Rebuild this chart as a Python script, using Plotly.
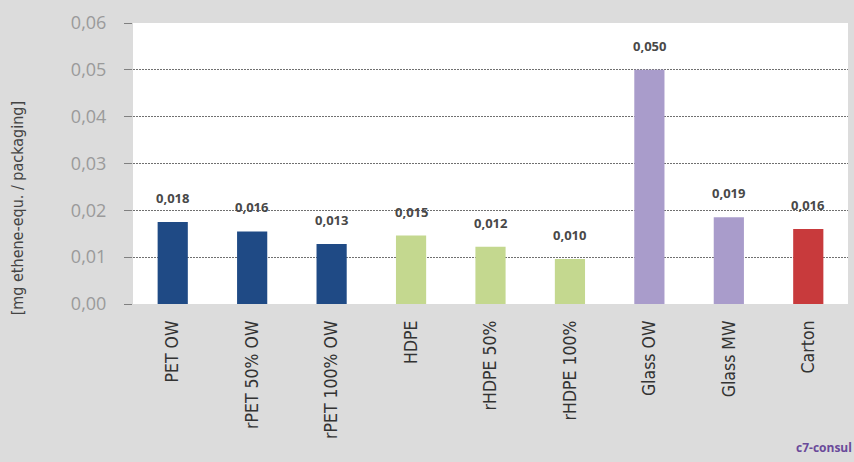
import plotly.graph_objects as go

categories = ["PET OW", "rPET 50% OW", "rPET 100% OW", "HDPE", "rHDPE 50%",
              "rHDPE 100%", "Glass OW", "Glass MW", "Carton"]
values = [0.0175, 0.0155, 0.0128, 0.0146, 0.0122, 0.0096, 0.0500, 0.0185, 0.0160]
labels = ["0,018", "0,016", "0,013", "0,015", "0,012", "0,010", "0,050", "0,019", "0,016"]
colors = ["#1f4a85", "#1f4a85", "#1f4a85", "#c4d88f", "#c4d88f", "#c4d88f",
          "#a99ccb", "#a99ccb", "#c83a3c"]
y_title = "[mg ethene-equ. / packaging]"
watermark = "c7-consul"

fig = go.Figure(go.Bar(
    x=categories, y=values, marker=dict(color=colors, line=dict(width=0)),
    hoverinfo="x+y",
))

for cat, val, lab in zip(categories, values, labels):
    fig.add_annotation(
        x=cat, y=val, text="<b>" + lab + "</b>", showarrow=False,
        xanchor="center", yanchor="bottom", yshift=13,
        font=dict(family="Open Sans", size=13, color="#484848"),
    )

fig.update_layout(
    width=854, height=462,
    margin=dict(l=133, r=6, t=23, b=158),
    paper_bgcolor="#dcdcdc", plot_bgcolor="#ffffff",
    separators=",.",
    bargap=0.62,
    showlegend=False,
    font=dict(family="Open Sans"),
)
fig.update_yaxes(
    range=[0, 0.06], dtick=0.01, tickformat=".2f",
    showgrid=True, gridcolor="#707070", griddash="2px,1px", gridwidth=1,
    ticks="outside", ticklen=8, tickcolor="#808080",
    tickfont=dict(family="Open Sans", size=18, color="#9a9a9a"),
    zeroline=False, showline=False, ticklabelstandoff=14,
)
fig.update_xaxes(
    tickangle=-90, showgrid=False, ticks="", ticklabelstandoff=12,
    tickfont=dict(family="DejaVu Sans Condensed, Liberation Sans Narrow, sans-serif",
                  size=17.5, color="#333333"),
)
fig.add_annotation(
    text=y_title, textangle=-90, xref="paper", yref="paper",
    x=-0.161, y=0.34, xanchor="center", yanchor="middle", showarrow=False,
    font=dict(family="DejaVu Sans Condensed, Open Sans, sans-serif", size=16, color="#444444"),
)
fig.add_annotation(
    text="<b>" + watermark + "</b>", xref="paper", yref="paper",
    x=1.0084, y=-0.51, xanchor="right", yanchor="middle", showarrow=False,
    font=dict(family="Open Sans", size=12, color="#6a4a9a"),
)
fig.write_html("out.html", post_script="document.body.style.margin='0';",
               config={"displayModeBar": False})
